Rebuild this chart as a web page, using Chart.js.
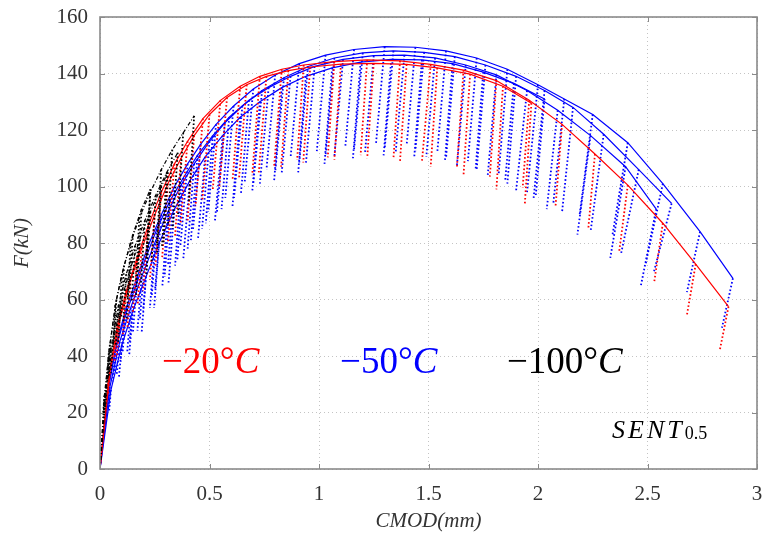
<!DOCTYPE html>
<html>
<head>
<meta charset="utf-8">
<script src="https://cdn.jsdelivr.net/npm/chart.js@4.4.1/dist/chart.umd.min.js"></script>
<style>
  html, body { margin: 0; padding: 0; background: #fff; }
  #grafico { display: block; }
</style>
</head>
<body>
<canvas id="grafico" width="764" height="540"></canvas>
<script>
// Ejes
const xTicks = [0, 0.5, 1, 1.5, 2, 2.5, 3];
const xTickLabels = ['0', '0.5', '1', '1.5', '2', '2.5', '3'];
const yTicks = [0, 20, 40, 60, 80, 100, 120, 140, 160];
const yTickLabels = ['0', '20', '40', '60', '80', '100', '120', '140', '160'];

// -20°C, probeta 1: CMOD (mm), F (kN), y cada descarga: F mínima y su CMOD
const r1Cmod = [0, 0.04, 0.08, 0.12, 0.17, 0.22, 0.28, 0.34, 0.40, 0.47, 0.55, 0.64, 0.73, 0.83, 0.93, 1.07, 1.22, 1.37, 1.51, 1.66, 1.81, 1.96, 2.11, 2.26, 2.41, 2.57, 2.72, 2.87];
const r1F = [0, 33, 51, 63, 75, 86, 98, 108, 116, 124, 130.5, 135.5, 139, 141.5, 143, 144.2, 144.8, 144.5, 143.2, 141.2, 137.5, 130.5, 122, 111.5, 100.5, 87, 72.5, 57.5];
const r1Min = [null, 25, 38, 47, 55, 63, 72, 80, 87, 93, 99, 102, 104, 107, 109.4, 110.3, 111.1, 110, 108.8, 107, 103.5, 99.5, 92.9, 85.3, 76.5, 65.8, 54.5, 42];
const r1CmodMin = [null, 0.031, 0.066, 0.104, 0.15, 0.197, 0.253, 0.31, 0.368, 0.436, 0.515, 0.605, 0.695, 0.795, 0.90, 1.04, 1.19, 1.34, 1.47, 1.63, 1.78, 1.93, 2.08, 2.23, 2.37, 2.53, 2.68, 2.83];

// -20°C, probeta 2
const r2Cmod = [0, 0.045, 0.09, 0.14, 0.19, 0.25, 0.31, 0.37, 0.43, 0.50, 0.58, 0.67, 0.76, 0.86, 0.96, 1.10, 1.25, 1.40, 1.54, 1.69, 1.84, 1.97];
const r2F = [0, 34, 53, 67, 78, 90, 101, 110, 118, 125.5, 131.5, 136, 139, 141, 142.3, 143.3, 143.6, 143.2, 142, 139.8, 135.5, 129.5];
const r2Min = [null, 26, 40, 50, 58, 67, 75, 82, 88, 95, 100, 103, 105, 107, 108.5, 109.5, 110, 109, 107, 104, 99, 94];
const r2CmodMin = [null, 0.036, 0.077, 0.125, 0.172, 0.228, 0.284, 0.342, 0.40, 0.467, 0.545, 0.635, 0.725, 0.827, 0.928, 1.07, 1.22, 1.37, 1.51, 1.66, 1.81, 1.94];

// -50°C, probetas 1 a 4
const b1Cmod = [0, 0.04, 0.08, 0.12, 0.17, 0.22, 0.28, 0.34, 0.40, 0.46, 0.53, 0.61, 0.70, 0.80, 0.91, 1.03, 1.16, 1.30, 1.44, 1.58, 1.72, 1.86, 2.00, 2.12, 2.25, 2.41, 2.57, 2.74, 2.89];
const b1F = [0, 30, 46, 57, 68, 79, 90, 100, 108, 115, 122, 128.5, 134.5, 139.5, 143.5, 146.5, 148.5, 149.5, 149.3, 148, 145.5, 141.5, 136, 131, 125.5, 115.5, 101, 84, 67.5];
const b1Min = [null, 22, 34, 41, 48, 56, 64, 72, 79, 85, 91, 96, 101, 106, 110, 112.5, 114, 115, 114.5, 112, 109, 104, 98, 94, 90, 82.8, 72, 62.6, 50];
const b1CmodMin = [null, 0.031, 0.066, 0.103, 0.15, 0.197, 0.252, 0.31, 0.367, 0.425, 0.494, 0.572, 0.66, 0.76, 0.87, 0.99, 1.12, 1.26, 1.40, 1.54, 1.68, 1.82, 1.95, 2.07, 2.19, 2.34, 2.49, 2.68, 2.84];

const b2Cmod = [0, 0.045, 0.09, 0.14, 0.19, 0.25, 0.31, 0.37, 0.43, 0.50, 0.57, 0.65, 0.74, 0.84, 0.95, 1.07, 1.20, 1.34, 1.48, 1.62, 1.76, 1.90, 2.03, 2.16, 2.30, 2.46, 2.61];
const b2F = [0, 29, 45, 57, 68, 80, 91, 100.5, 108, 116, 122.5, 128.5, 134, 138.5, 142.5, 145.5, 147.3, 148, 147.5, 146, 143, 139, 134, 128, 118.5, 106, 94];
const b2Min = [null, 21, 33, 41, 49, 57, 65, 72, 78, 85, 91, 96, 101, 105, 108.5, 111, 113, 113.5, 112.5, 110, 106, 101, 96, 91, 84, 76.5, 70];
const b2CmodMin = [null, 0.036, 0.076, 0.124, 0.171, 0.228, 0.285, 0.343, 0.40, 0.466, 0.534, 0.612, 0.70, 0.80, 0.91, 1.03, 1.16, 1.30, 1.44, 1.58, 1.72, 1.86, 1.98, 2.11, 2.24, 2.38, 2.53];

const b3Cmod = [0, 0.035, 0.07, 0.11, 0.155, 0.205, 0.26, 0.32, 0.38, 0.445, 0.515, 0.59, 0.68, 0.77, 0.87, 0.98, 1.11, 1.25, 1.39, 1.53, 1.67, 1.81, 1.95, 2.09, 2.24, 2.40, 2.54];
const b3F = [0, 27, 42, 53, 63, 74, 85, 95, 103, 111, 118, 124.5, 130.5, 135, 139, 142.5, 145, 146.3, 146.5, 145.5, 143, 139.5, 134, 127, 118, 107, 92];
const b3Min = [null, 20, 31, 38, 45, 53, 61, 68, 74, 81, 87, 92, 97, 101, 105, 108, 110.5, 112, 112, 110.5, 107.5, 103.5, 98.5, 92, 83, 74.7, 65];
const b3CmodMin = [null, 0.027, 0.058, 0.094, 0.135, 0.182, 0.236, 0.295, 0.353, 0.415, 0.483, 0.555, 0.643, 0.73, 0.83, 0.94, 1.07, 1.21, 1.35, 1.49, 1.63, 1.77, 1.90, 2.04, 2.18, 2.33, 2.47];

const b4Cmod = [0, 0.05, 0.10, 0.15, 0.21, 0.27, 0.34, 0.41, 0.48, 0.56, 0.64, 0.73, 0.83, 0.94, 1.06, 1.19, 1.33, 1.47, 1.61, 1.75, 1.89, 2.03];
const b4F = [0, 28, 44, 56, 68, 80, 92, 102, 110.5, 118, 124.5, 130, 135, 139, 142, 144, 145, 144.8, 143.5, 140.5, 136.5, 131];
const b4Min = [null, 20, 32, 40, 48, 57, 66, 74, 81, 88, 93, 98, 102, 105, 108, 110, 111, 110.5, 109, 106, 102, 97];
const b4CmodMin = [null, 0.041, 0.086, 0.133, 0.19, 0.247, 0.313, 0.38, 0.447, 0.525, 0.605, 0.695, 0.795, 0.905, 1.025, 1.155, 1.295, 1.435, 1.575, 1.715, 1.85, 1.99];

// -100°C, probetas 1 a 4 (rotura frágil temprana)
const k1Cmod = [0, 0.02, 0.04, 0.07, 0.10, 0.14, 0.18, 0.23, 0.28, 0.33, 0.38, 0.43];
const k1F = [0, 24, 41, 58, 69, 80, 89, 98, 106, 113, 119, 125];
const k1Min = [null, 18, 31, 44, 52, 60, 67, 74, 80, 86, 90, 94];
const k1CmodMin = [null, 0.016, 0.033, 0.06, 0.088, 0.126, 0.164, 0.212, 0.26, 0.31, 0.356, 0.405];

const k2Cmod = [0, 0.025, 0.05, 0.085, 0.12, 0.16, 0.205, 0.255, 0.305, 0.355];
const k2F = [0, 27, 43, 58, 69, 79, 88, 97, 105, 112];
const k2Min = [null, 20, 33, 44, 52, 59, 66, 73, 79, 85];
const k2CmodMin = [null, 0.019, 0.04, 0.072, 0.106, 0.144, 0.187, 0.235, 0.283, 0.331];

const k3Cmod = [0, 0.03, 0.06, 0.095, 0.135, 0.18, 0.23, 0.28, 0.31];
const k3F = [0, 29, 45, 59, 70, 81, 91, 100, 105];
const k3Min = [null, 22, 34, 45, 53, 61, 69, 76, 80];
const k3CmodMin = [null, 0.024, 0.05, 0.083, 0.121, 0.164, 0.212, 0.26, 0.29];

const k4Cmod = [0, 0.02, 0.045, 0.075, 0.11, 0.15, 0.19, 0.23];
const k4F = [0, 26, 44, 60, 72, 83, 92, 99];
const k4Min = [null, 20, 33, 45, 54, 63, 70, 75];
const k4CmodMin = [null, 0.015, 0.036, 0.063, 0.097, 0.135, 0.173, 0.211];

// Rótulos de temperatura (posición en unidades del gráfico: CMOD, F de la línea base)
const tempTextos = ['\u221220\u00b0', '\u221250\u00b0', '\u2212100\u00b0'];
const tempCmod = [0.283, 1.096, 1.858];
const tempF = [34, 34, 34];
const sentCmod = 2.338;
const sentF = 11;

const ROJO = '#ff0000';
const AZUL = '#0000ff';
const NEGRO = '#000000';
const SERIF = '"Liberation Serif", "DejaVu Serif", serif';

// Envolvente continua + ciclos de descarga punteados
function probeta(cmod, f, fMin, cmodMin, color, dashEnv) {
  const envolvente = cmod.map((c, i) => ({ x: c, y: f[i] }));
  const ciclos = [];
  cmod.forEach((c, i) => {
    if (fMin[i] === null) return;
    ciclos.push({ x: c, y: f[i] }, { x: cmodMin[i], y: fMin[i] }, { x: c, y: null });
  });
  return [
    { data: envolvente, borderColor: color, borderWidth: 1.2, borderDash: dashEnv, pointRadius: 0, tension: 0 },
    { data: ciclos, borderColor: color, borderWidth: 1.8, borderDash: [1.6, 2.2], pointRadius: 0, spanGaps: false }
  ];
}

const dashNegro = [4, 2, 1, 2];
const datasets = [
  ...probeta(k1Cmod, k1F, k1Min, k1CmodMin, NEGRO, dashNegro),
  ...probeta(k2Cmod, k2F, k2Min, k2CmodMin, NEGRO, dashNegro),
  ...probeta(k3Cmod, k3F, k3Min, k3CmodMin, NEGRO, dashNegro),
  ...probeta(k4Cmod, k4F, k4Min, k4CmodMin, NEGRO, dashNegro),
  ...probeta(r1Cmod, r1F, r1Min, r1CmodMin, ROJO, []),
  ...probeta(r2Cmod, r2F, r2Min, r2CmodMin, ROJO, []),
  ...probeta(b1Cmod, b1F, b1Min, b1CmodMin, AZUL, []),
  ...probeta(b2Cmod, b2F, b2Min, b2CmodMin, AZUL, []),
  ...probeta(b3Cmod, b3F, b3Min, b3CmodMin, AZUL, []),
  ...probeta(b4Cmod, b4F, b4Min, b4CmodMin, AZUL, [])
];

// Marco, marcas interiores y textos
const marcoPlugin = {
  id: 'marco',
  afterDatasetsDraw(chart) {
    const { ctx, chartArea: a, scales: { x, y } } = chart;
    ctx.save();
    ctx.strokeStyle = '#8a8a8a';
    ctx.lineWidth = 1.6;
    ctx.strokeRect(a.left, a.top, a.right - a.left, a.bottom - a.top);
    ctx.lineWidth = 1;
    ctx.beginPath();
    xTicks.forEach(v => {
      const px = Math.round(x.getPixelForValue(v)) + 0.5;
      ctx.moveTo(px, a.bottom); ctx.lineTo(px, a.bottom - 5);
      ctx.moveTo(px, a.top); ctx.lineTo(px, a.top + 5);
    });
    yTicks.forEach(v => {
      const py = Math.round(y.getPixelForValue(v)) + 0.5;
      ctx.moveTo(a.left, py); ctx.lineTo(a.left + 5, py);
      ctx.moveTo(a.right, py); ctx.lineTo(a.right - 5, py);
    });
    ctx.stroke();

    const colores = [ROJO, AZUL, NEGRO];
    ctx.textBaseline = 'alphabetic';
    tempTextos.forEach((t, i) => {
      const px = x.getPixelForValue(tempCmod[i]);
      const py = y.getPixelForValue(tempF[i]);
      ctx.fillStyle = colores[i];
      ctx.font = '37px ' + SERIF;
      ctx.fillText(t, px, py);
      const w = ctx.measureText(t).width;
      ctx.font = 'italic 37px ' + SERIF;
      ctx.fillText('C', px + w, py);
    });

    const sx = x.getPixelForValue(sentCmod);
    const sy = y.getPixelForValue(sentF);
    ctx.fillStyle = NEGRO;
    ctx.font = 'italic 26px ' + SERIF;
    ctx.letterSpacing = '3px';
    ctx.fillText('SENT', sx, sy);
    const ws = ctx.measureText('SENT').width;
    ctx.letterSpacing = '0px';
    ctx.font = '18px ' + SERIF;
    ctx.fillText('0.5', sx + ws, sy + 1);
    ctx.restore();
  }
};

const ctx = document.getElementById('grafico').getContext('2d');
const grafico = new Chart(ctx, {
  type: 'line',
  data: { datasets },
  plugins: [marcoPlugin],
  options: {
    responsive: false,
    animation: false,
    devicePixelRatio: 1,
    layout: { padding: { top: 17, right: 7, left: 0, bottom: 0 } },
    plugins: { legend: { display: false }, tooltip: { enabled: false } },
    scales: {
      x: {
        type: 'linear', min: 0, max: 3,
        afterBuildTicks: s => { s.ticks = xTicks.map(v => ({ value: v })); },
        afterFit: s => { s.height = 71; s.paddingLeft = 0; s.paddingRight = 0; },
        grid: { color: '#c4c4c4', lineWidth: 1, drawTicks: false },
        border: { display: false, dash: [1, 3] },
        ticks: {
          padding: 13, color: '#333', maxRotation: 0, autoSkip: false,
          font: { family: SERIF, size: 21 },
          callback: (v, i) => xTickLabels[i]
        },
        title: {
          display: true, text: 'CMOD(mm)', color: '#333',
          font: { family: SERIF, size: 21, style: 'italic' },
          padding: { top: 0, bottom: 6 }
        }
      },
      y: {
        type: 'linear', min: 0, max: 160,
        afterBuildTicks: s => { s.ticks = yTicks.map(v => ({ value: v })); },
        afterFit: s => { s.width = 100; s.paddingTop = 0; s.paddingBottom = 0; },
        grid: { color: '#c4c4c4', lineWidth: 1, drawTicks: false },
        border: { display: false, dash: [1, 3] },
        ticks: {
          padding: 12, color: '#333',
          font: { family: SERIF, size: 21 },
          callback: (v, i) => yTickLabels[i]
        },
        title: {
          display: true, text: 'F(kN)', color: '#333',
          font: { family: SERIF, size: 21, style: 'italic' },
          padding: { top: 10, bottom: 0 }
        }
      }
    }
  }
});
</script>
</body>
</html>
